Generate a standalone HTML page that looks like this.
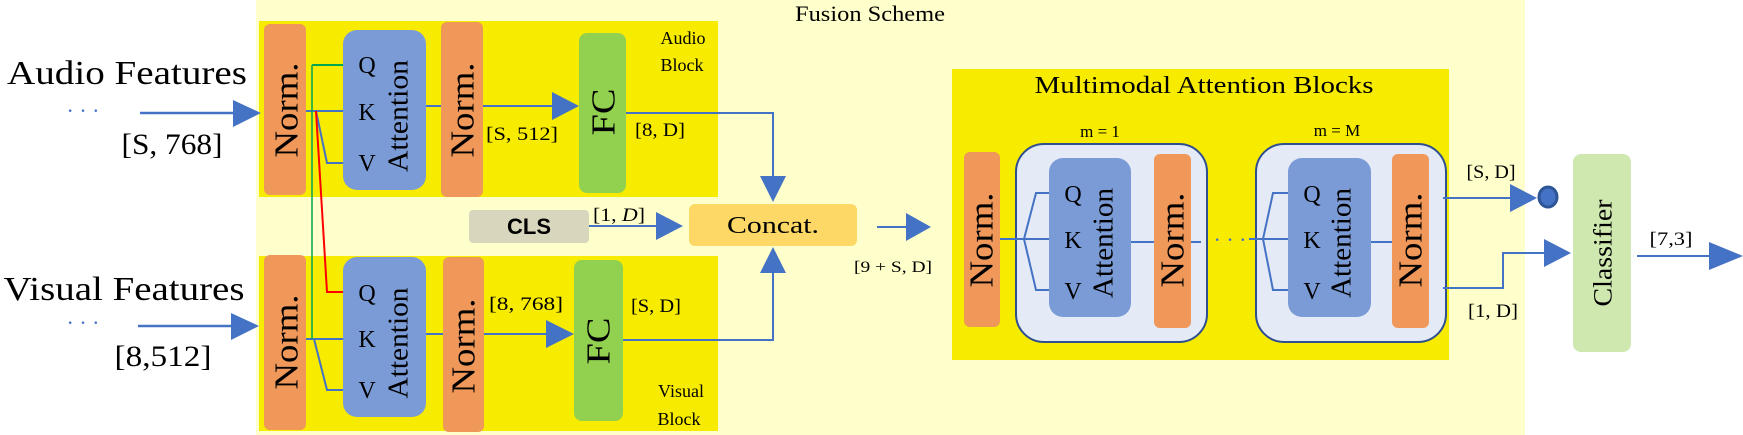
<!DOCTYPE html>
<html><head><meta charset="utf-8"><style>
html,body{margin:0;padding:0;background:#fff;}
svg{display:block;}
text{font-family:"Liberation Serif",serif;fill:#000;}
</style></head><body>
<svg width="1743" height="435" viewBox="0 0 1743 435" xmlns="http://www.w3.org/2000/svg">
<defs>
<marker id="ah" markerWidth="10" markerHeight="10" refX="0" refY="5" orient="auto" markerUnits="userSpaceOnUse"><path d="M0,0 L10,5 L0,10 z" fill="#4472c4"/></marker>
</defs>
<!-- fusion background -->
<rect x="256" y="0" width="1269" height="435" fill="#ffffcc"/>
<text x="870" y="21" font-size="22" text-anchor="middle" textLength="150" lengthAdjust="spacingAndGlyphs">Fusion Scheme</text>

<!-- blocks -->
<rect x="259" y="21" width="459" height="176" fill="#f7eb00"/>
<rect x="259" y="256" width="459" height="175" fill="#f7eb00"/>
<text x="683" y="44" font-size="18" text-anchor="middle">Audio</text>
<text x="682" y="71" font-size="18" text-anchor="middle">Block</text>
<text x="681" y="397" font-size="18" text-anchor="middle">Visual</text>
<text x="679" y="425" font-size="18" text-anchor="middle">Block</text>

<!-- audio block components -->
<rect x="264" y="24" width="42" height="171" rx="6" fill="#f0975a"/>
<rect x="343" y="30" width="83" height="160" rx="14" fill="#7b9bd6"/>
<rect x="441" y="22" width="42" height="175" rx="6" fill="#f0975a"/>
<rect x="579" y="33" width="47" height="160" rx="8" fill="#92d050"/>
<!-- visual block components -->
<rect x="264" y="255" width="42" height="175" rx="6" fill="#f0975a"/>
<rect x="343" y="257" width="83" height="160" rx="14" fill="#7b9bd6"/>
<rect x="443" y="257" width="41" height="175" rx="6" fill="#f0975a"/>
<rect x="574" y="260" width="49" height="161" rx="8" fill="#92d050"/>

<!-- rotated labels -->
<g font-size="34">
<text transform="translate(287,110) rotate(-90)" text-anchor="middle" dominant-baseline="central" textLength="95" lengthAdjust="spacingAndGlyphs">Norm.</text>
<text transform="translate(463,110) rotate(-90)" text-anchor="middle" dominant-baseline="central" textLength="95" lengthAdjust="spacingAndGlyphs">Norm.</text>
<text transform="translate(287,342) rotate(-90)" text-anchor="middle" dominant-baseline="central" textLength="95" lengthAdjust="spacingAndGlyphs">Norm.</text>
<text transform="translate(464,346) rotate(-90)" text-anchor="middle" dominant-baseline="central" textLength="95" lengthAdjust="spacingAndGlyphs">Norm.</text>
<text transform="translate(604,112) rotate(-90)" text-anchor="middle" dominant-baseline="central" textLength="47" lengthAdjust="spacingAndGlyphs">FC</text>
<text transform="translate(599,341) rotate(-90)" text-anchor="middle" dominant-baseline="central" textLength="47" lengthAdjust="spacingAndGlyphs">FC</text>
<text transform="translate(982,240) rotate(-90)" text-anchor="middle" dominant-baseline="central" textLength="95" lengthAdjust="spacingAndGlyphs">Norm.</text>
<text transform="translate(1173,240) rotate(-90)" text-anchor="middle" dominant-baseline="central" textLength="95" lengthAdjust="spacingAndGlyphs">Norm.</text>
<text transform="translate(1411,240) rotate(-90)" text-anchor="middle" dominant-baseline="central" textLength="95" lengthAdjust="spacingAndGlyphs">Norm.</text>
</g>
<g font-size="28">
<text transform="translate(399,116) rotate(-90)" text-anchor="middle" dominant-baseline="central" textLength="112" lengthAdjust="spacingAndGlyphs">Attention</text>
<text transform="translate(399,343) rotate(-90)" text-anchor="middle" dominant-baseline="central" textLength="111" lengthAdjust="spacingAndGlyphs">Attention</text>
</g>
<g font-size="24" text-anchor="middle">
<text x="367" y="73">Q</text><text x="367" y="120">K</text><text x="367" y="171">V</text>
<text x="367" y="301">Q</text><text x="367" y="347">K</text><text x="367" y="398">V</text>
</g>

<!-- input labels -->
<text x="127" y="84" font-size="34" text-anchor="middle" textLength="240" lengthAdjust="spacingAndGlyphs">Audio Features</text>
<text x="124" y="300" font-size="34" text-anchor="middle" textLength="241" lengthAdjust="spacingAndGlyphs">Visual Features</text>
<text x="83" y="118" font-size="22" fill="#4472c4" text-anchor="middle" style="fill:#4472c4">· · ·</text>
<text x="83" y="330" font-size="22" text-anchor="middle" style="fill:#4472c4">· · ·</text>
<text x="172" y="154" font-size="30" text-anchor="middle" textLength="101" lengthAdjust="spacingAndGlyphs">[S, 768]</text>
<text x="163" y="366" font-size="30" text-anchor="middle" textLength="97" lengthAdjust="spacingAndGlyphs">[8,512]</text>

<g stroke="#4472c4" stroke-width="2.5" fill="none">
<!-- input arrows -->
<line x1="140" y1="113" x2="233" y2="113" marker-end="url(#ah)"/>
<line x1="138" y1="326" x2="231" y2="326" marker-end="url(#ah)"/>
</g>
<path d="M233,100 L261,113 L233,127 z" fill="#4472c4"/>
<path d="M231,313 L259,326 L231,340 z" fill="#4472c4"/>

<g stroke="#4472c4" stroke-width="2" fill="none">
<!-- audio internal -->
<line x1="306" y1="111" x2="343" y2="111"/>
<polyline points="316,111 327,163 343,163"/>
<line x1="426" y1="106" x2="441" y2="106"/>
<line x1="483" y1="106" x2="552" y2="106"/>
<!-- visual internal -->
<line x1="306" y1="339" x2="343" y2="339"/>
<polyline points="314,339 327,390 343,390"/>
<line x1="426" y1="334" x2="443" y2="334"/>
<line x1="484" y1="334" x2="546" y2="334"/>
<!-- FC outs -->
<polyline points="626,113 773,113 773,178"/>
<polyline points="623,340 773,340 773,272"/>
<!-- CLS -->
<line x1="589" y1="226" x2="656" y2="226"/>
<!-- concat out -->
<line x1="877" y1="227" x2="906" y2="227"/>
</g>
<line x1="312" y1="65" x2="343" y2="65" stroke="#00a651" stroke-width="2"/>
<line x1="312" y1="65" x2="312" y2="339" stroke="#00a651" stroke-width="1.5"/>
<polyline points="316,111 327,292 343,292" stroke="#ff0000" stroke-width="2" fill="none"/>
<g fill="#4472c4">
<path d="M552,92 L579,106 L552,120 z"/>
<path d="M546,320 L574,334 L546,348 z"/>
<path d="M760,176 L786,176 L773,202 z"/>
<path d="M760,273 L786,273 L773,247 z"/>
<path d="M656,212 L683,226 L656,240 z"/>
<path d="M906,213 L931,227 L906,241 z"/>
</g>

<text x="522" y="140" font-size="19" text-anchor="middle" textLength="72" lengthAdjust="spacingAndGlyphs">[S, 512]</text>
<text x="660" y="136" font-size="19" text-anchor="middle" textLength="50" lengthAdjust="spacingAndGlyphs">[8, D]</text>
<text x="526" y="310" font-size="19" text-anchor="middle" textLength="74" lengthAdjust="spacingAndGlyphs">[8, 768]</text>
<text x="656" y="312" font-size="19" text-anchor="middle" textLength="50" lengthAdjust="spacingAndGlyphs">[S, D]</text>
<text x="619" y="221" font-size="19" text-anchor="middle" textLength="52" lengthAdjust="spacingAndGlyphs">[1, <tspan font-style="italic">D</tspan>]</text>

<!-- CLS & Concat -->
<rect x="469" y="210" width="120" height="33" rx="4" fill="#d8d6bd"/>
<text x="529" y="234" font-size="22" font-weight="bold" text-anchor="middle" style="font-family:'Liberation Sans',sans-serif">CLS</text>
<rect x="689" y="204" width="168" height="42" rx="6" fill="#fdd866"/>
<text x="773" y="233" font-size="24" text-anchor="middle" textLength="92" lengthAdjust="spacingAndGlyphs">Concat.</text>
<text x="893" y="272" font-size="16" text-anchor="middle" textLength="78" lengthAdjust="spacingAndGlyphs">[9 + S, D]</text>

<!-- Multimodal -->
<rect x="952" y="69" width="497" height="291" fill="#f7eb00"/>
<text x="1204" y="93" font-size="24" text-anchor="middle" textLength="339" lengthAdjust="spacingAndGlyphs">Multimodal Attention Blocks</text>
<rect x="964" y="152" width="36" height="175" rx="6" fill="#f0975a"/>
<text x="1100" y="137" font-size="17" text-anchor="middle">m = 1</text>
<text x="1337" y="136" font-size="17" text-anchor="middle">m = M</text>
<rect x="1016" y="144" width="191" height="198" rx="28" fill="#e4eaf6" stroke="#2f4f8f" stroke-width="2"/>
<rect x="1256" y="144" width="190" height="198" rx="28" fill="#e4eaf6" stroke="#2f4f8f" stroke-width="2"/>
<rect x="1049" y="158" width="82" height="159" rx="14" fill="#7b9bd6"/>
<rect x="1154" y="154" width="37" height="174" rx="6" fill="#f0975a"/>
<rect x="1288" y="158" width="83" height="159" rx="14" fill="#7b9bd6"/>
<rect x="1392" y="154" width="37" height="174" rx="6" fill="#f0975a"/>
<g font-size="34">
<text transform="translate(982,240) rotate(-90)" text-anchor="middle" dominant-baseline="central" textLength="95" lengthAdjust="spacingAndGlyphs">Norm.</text>
<text transform="translate(1173,240) rotate(-90)" text-anchor="middle" dominant-baseline="central" textLength="95" lengthAdjust="spacingAndGlyphs">Norm.</text>
<text transform="translate(1411,240) rotate(-90)" text-anchor="middle" dominant-baseline="central" textLength="95" lengthAdjust="spacingAndGlyphs">Norm.</text>
</g>
<g font-size="28">
<text transform="translate(1104,243) rotate(-90)" text-anchor="middle" dominant-baseline="central" textLength="110" lengthAdjust="spacingAndGlyphs">Attention</text>
<text transform="translate(1342,243) rotate(-90)" text-anchor="middle" dominant-baseline="central" textLength="110" lengthAdjust="spacingAndGlyphs">Attention</text>
</g>
<g font-size="24" text-anchor="middle">
<text x="1073" y="202">Q</text><text x="1073" y="248">K</text><text x="1073" y="299">V</text>
<text x="1312" y="202">Q</text><text x="1312" y="248">K</text><text x="1312" y="299">V</text>
</g>
<g stroke="#4472c4" stroke-width="2" fill="none">
<line x1="1000" y1="239" x2="1049" y2="239"/>
<polyline points="1049,193 1036,193 1024,239 1036,290 1049,290"/>
<line x1="1131" y1="242" x2="1154" y2="242"/>
<line x1="1191" y1="242" x2="1201" y2="242"/>
<line x1="1249" y1="239" x2="1288" y2="239"/>
<polyline points="1288,193 1273,193 1263,239 1273,290 1288,290"/>
<line x1="1371" y1="242" x2="1392" y2="242"/>
<line x1="1443" y1="198" x2="1512" y2="198"/>
<polyline points="1443,288 1503,288 1503,253 1546,253"/>
<line x1="1637" y1="256" x2="1710" y2="256"/>
</g>
<text x="1230" y="247" font-size="22" text-anchor="middle" style="fill:#4472c4">· · ·</text>
<g fill="#4472c4">
<path d="M1510,184 L1537,198 L1510,212 z"/>
<path d="M1544,239 L1571,253 L1544,267 z"/>
<path d="M1709,242 L1743,256 L1709,270 z"/>
</g>
<ellipse cx="1548" cy="197" rx="9" ry="10" fill="#4472c4" stroke="#2f5597" stroke-width="3"/>
<text x="1491" y="178" font-size="19" text-anchor="middle" textLength="49" lengthAdjust="spacingAndGlyphs">[S, D]</text>
<text x="1493" y="317" font-size="19" text-anchor="middle" textLength="50" lengthAdjust="spacingAndGlyphs">[1, D]</text>
<text x="1671" y="245" font-size="19" text-anchor="middle" textLength="43" lengthAdjust="spacingAndGlyphs">[7,3]</text>

<rect x="1573" y="154" width="58" height="198" rx="8" fill="#cfe8b0"/>
<text transform="translate(1603,253) rotate(-90)" font-size="26" text-anchor="middle" dominant-baseline="central" textLength="107" lengthAdjust="spacingAndGlyphs">Classifier</text>
</svg>
</body></html>
